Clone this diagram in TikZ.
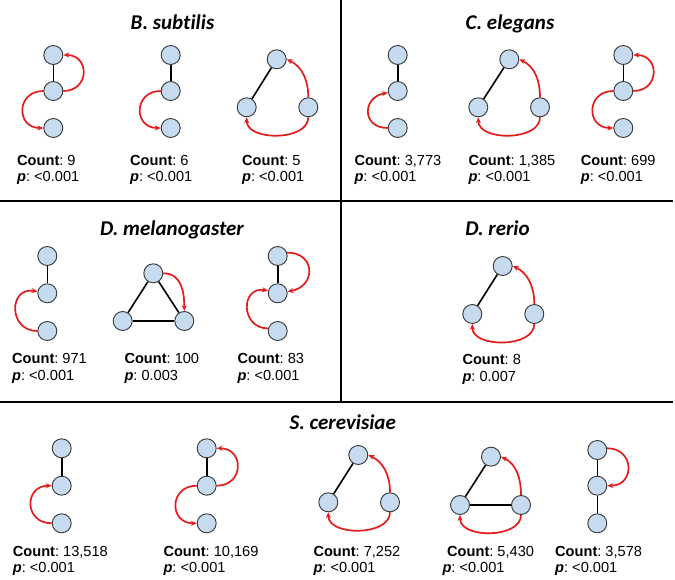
\documentclass[tikz,border=0pt]{standalone}
\usepackage{fontspec}
\setmainfont{Liberation Sans}
\newfontfamily\titlefont[Ligatures={NoCommon}]{Carlito}
\usetikzlibrary{arrows.meta}
\definecolor{nodeblue}{RGB}{198,218,240}
\definecolor{nodeline}{RGB}{55,55,55}
\definecolor{arcred}{RGB}{228,28,28}
\frenchspacing
\begin{document}
\begin{tikzpicture}[x=1pt,y=1pt,
  nd/.style={circle,draw=nodeline,fill=nodeblue,line width=0.9pt,minimum size=19pt,inner sep=0pt},
  bk/.style={draw=black,line width=1.6pt},
  rd/.style={draw=arcred,line width=1.7pt,-{Stealth[length=6pt,width=5pt]}},
  lab/.style={anchor=base west,inner sep=0pt,font=\fontsize{14.6}{17}\selectfont},
  ttl/.style={anchor=base,inner sep=0pt,font=\titlefont\bfseries\itshape\fontsize{21}{25}\selectfont},
  sepline/.style={line width=2.4pt,black}]
\fill[white] (0,0) rectangle (675,-580);
\useasboundingbox (0,0) rectangle (675,-580);

% separators
\coordinate (h1a) at (0,-201);
\coordinate (h1b) at (673,-201);
\coordinate (h2a) at (0,-402);
\coordinate (h2b) at (673,-402);
\coordinate (v1a) at (341,0);
\coordinate (v1b) at (341,-402);
\draw[sepline] (h1a) -- (h1b);
\draw[sepline] (h2a) -- (h2b);
\draw[sepline] (v1a) -- (v1b);

% titles
\node[ttl] (tB) at (172.5,-30) {B. subtilis};
\node[ttl] (tC) at (510,-29.5) {C. elegans};
\node[ttl] (tD) at (172,-235.7) {D. melanogaster};
\node[ttl] (tR) at (497.5,-235.7) {D. rerio};
\node[ttl] (tS) at (342.7,-429.3) {S. cerevisiae};

% ===== B. subtilis =====
% B1
\node[nd] (b1t) at (53.3,-55) {};
\node[nd] (b1m) at (53.3,-91) {};
\node[nd] (b1b) at (53.3,-128) {};
\draw[bk] (b1t) -- (b1m);
\draw[rd] (b1m.east) to[out=0,in=0,looseness=1.9] (b1t.east);
\draw[rd] (b1m.west) to[out=180,in=180,looseness=1.9] (b1b.west);
\node[lab] (b1c) at (17,-165.5) {\textbf{Count}: 9};
\node[lab] (b1p) at (17,-181.5) {\textbf{\textit{p}}: <0.001};
% B2
\node[nd] (b2t) at (170.7,-55) {};
\node[nd] (b2m) at (170.7,-91) {};
\node[nd] (b2b) at (170.7,-128) {};
\draw[bk] (b2t) -- (b2m);
\draw[rd] (b2m.west) to[out=180,in=180,looseness=1.9] (b2b.west);
\node[lab] (b2c) at (130,-165.5) {\textbf{Count}: 6};
\node[lab] (b2p) at (130,-181.5) {\textbf{\textit{p}}: <0.001};
% B3
\node[nd] (b3t) at (276.7,-59.3) {};
\node[nd] (b3l) at (246.7,-107.3) {};
\node[nd] (b3r) at (308.3,-107.3) {};
\draw[bk] (b3t) -- (b3l);
\draw[rd] (b3r.north) to[out=90,in=-25] (b3t.east);
\draw[rd] (b3r.south) to[out=-90,in=-90] (b3l.south);
\node[lab] (b3c) at (242,-165.5) {\textbf{Count}: 5};
\node[lab] (b3p) at (242,-181.5) {\textbf{\textit{p}}: <0.001};

% ===== C. elegans =====
% C1
\node[nd] (c1t) at (397.7,-55) {};
\node[nd] (c1m) at (397.7,-91) {};
\node[nd] (c1b) at (397.7,-128) {};
\draw[bk] (c1t) -- (c1m);
\draw[rd] (c1b.west) to[out=180,in=190,looseness=1.9] (c1m.190);
\node[lab] (c1c) at (354.3,-165.5) {\textbf{Count}: 3,773};
\node[lab] (c1p) at (354.3,-181.5) {\textbf{\textit{p}}: <0.001};
% C2
\node[nd] (c2t) at (509.3,-59.3) {};
\node[nd] (c2l) at (478.3,-107.3) {};
\node[nd] (c2r) at (540,-107.3) {};
\draw[bk] (c2t) -- (c2l);
\draw[rd] (c2r.north) to[out=90,in=-25] (c2t.east);
\draw[rd] (c2r.south) to[out=-90,in=-90] (c2l.south);
\node[lab] (c2c) at (468.3,-165.5) {\textbf{Count}: 1,385};
\node[lab] (c2p) at (468.3,-181.5) {\textbf{\textit{p}}: <0.001};
% C3
\node[nd] (c3t) at (623.3,-55) {};
\node[nd] (c3m) at (623.3,-91) {};
\node[nd] (c3b) at (623.3,-128) {};
\draw[bk] (c3t) -- (c3m);
\draw[rd] (c3m.east) to[out=0,in=0,looseness=1.9] (c3t.east);
\draw[rd] (c3m.west) to[out=180,in=180,looseness=1.9] (c3b.west);
\node[lab] (c3c) at (580.7,-165.5) {\textbf{Count}: 699};
\node[lab] (c3p) at (580.7,-181.5) {\textbf{\textit{p}}: <0.001};

% ===== D. melanogaster =====
% D1
\node[nd] (d1t) at (47.3,-256) {};
\node[nd] (d1m) at (47.3,-293.3) {};
\node[nd] (d1b) at (47.3,-331) {};
\draw[bk] (d1t) -- (d1m);
\draw[rd] (d1b.west) to[out=180,in=170,looseness=1.9] (d1m.170);
\node[lab] (d1c) at (12,-363.5) {\textbf{Count}: 971};
\node[lab] (d1p) at (12,-380) {\textbf{\textit{p}}: <0.001};
% D2
\node[nd] (d2t) at (153.3,-273.3) {};
\node[nd] (d2l) at (122.7,-321) {};
\node[nd] (d2r) at (184.3,-321) {};
\draw[bk] (d2t) -- (d2l);
\draw[bk] (d2t) -- (d2r);
\draw[bk] (d2l) -- (d2r);
\draw[rd] (d2t.east) to[out=0,in=90,looseness=1.1] (d2r.north);
\node[lab] (d2c) at (124.3,-363.5) {\textbf{Count}: 100};
\node[lab] (d2p) at (124.3,-380) {\textbf{\textit{p}}: 0.003};
% D3
\node[nd] (d3t) at (277.7,-256) {};
\node[nd] (d3m) at (277.7,-293.3) {};
\node[nd] (d3b) at (277.7,-331) {};
\draw[bk] (d3t) -- (d3m);
\draw[rd] (d3t.20) to[out=0,in=10,looseness=1.9] (d3m.10);
\draw[rd] (d3b.165) to[out=180,in=170,looseness=1.9] (d3m.165);
\node[lab] (d3c) at (237.3,-363.5) {\textbf{Count}: 83};
\node[lab] (d3p) at (237.3,-380) {\textbf{\textit{p}}: <0.001};

% ===== D. rerio =====
\node[nd] (r1t) at (502.7,-266) {};
\node[nd] (r1l) at (472.3,-314) {};
\node[nd] (r1r) at (534.3,-314) {};
\draw[bk] (r1t) -- (r1l);
\draw[rd] (r1r.north) to[out=90,in=-25] (r1t.east);
\draw[rd] (r1r.south) to[out=-90,in=-90] (r1l.south);
\node[lab] (r1c) at (462.3,-364.5) {\textbf{Count}: 8};
\node[lab] (r1p) at (462.3,-381) {\textbf{\textit{p}}: 0.007};

% ===== S. cerevisiae =====
% S1
\node[nd] (s1t) at (61.7,-448.3) {};
\node[nd] (s1m) at (61.7,-485.7) {};
\node[nd] (s1b) at (61.7,-523.3) {};
\draw[bk] (s1t) -- (s1m);
\draw[rd] (s1b.west) to[out=180,in=180,looseness=1.9] (s1m.west);
\node[lab] (s1c) at (12.7,-556) {\textbf{Count}: 13,518};
\node[lab] (s1p) at (12.7,-572) {\textbf{\textit{p}}: <0.001};
% S2
\node[nd] (s2t) at (206.7,-448.3) {};
\node[nd] (s2m) at (206.7,-485.7) {};
\node[nd] (s2b) at (206.7,-523.3) {};
\draw[bk] (s2t) -- (s2m);
\draw[rd] (s2m.east) to[out=0,in=0,looseness=1.9] (s2t.east);
\draw[rd] (s2m.west) to[out=180,in=180,looseness=1.9] (s2b.west);
\node[lab] (s2c) at (163.3,-556) {\textbf{Count}: 10,169};
\node[lab] (s2p) at (163.3,-572) {\textbf{\textit{p}}: <0.001};
% S3
\node[nd] (s3t) at (358.3,-455) {};
\node[nd] (s3l) at (328.3,-502.3) {};
\node[nd] (s3r) at (390,-502.3) {};
\draw[bk] (s3t) -- (s3l);
\draw[rd] (s3r.north) to[out=90,in=-25] (s3t.east);
\draw[rd] (s3r.south) to[out=-90,in=-90] (s3l.south);
\node[lab] (s3c) at (313.3,-556) {\textbf{Count}: 7,252};
\node[lab] (s3p) at (313.3,-572) {\textbf{\textit{p}}: <0.001};
% S4
\node[nd] (s4t) at (491,-456.7) {};
\node[nd] (s4l) at (460,-505) {};
\node[nd] (s4r) at (521,-505) {};
\draw[bk] (s4t) -- (s4l);
\draw[bk] (s4l) -- (s4r);
\draw[rd] (s4r.north) to[out=90,in=-25] (s4t.east);
\draw[rd] (s4r.south) to[out=-90,in=-90] (s4l.south);
\node[lab] (s4c) at (447,-556) {\textbf{Count}: 5,430};
\node[lab] (s4p) at (442.3,-572) {\textbf{\textit{p}}: <0.001};
% S5
\node[nd] (s5t) at (597.3,-450) {};
\node[nd] (s5m) at (597.3,-485.7) {};
\node[nd] (s5b) at (597.3,-523.3) {};
\draw[bk] (s5t) -- (s5m);
\draw[bk] (s5m) -- (s5b);
\draw[rd] (s5t.10) to[out=0,in=0,looseness=1.9] (s5m.east);
\node[lab] (s5c) at (555,-556) {\textbf{Count}: 3,578};
\node[lab] (s5p) at (555,-572) {\textbf{\textit{p}}: <0.001};
\end{tikzpicture}
\end{document}
